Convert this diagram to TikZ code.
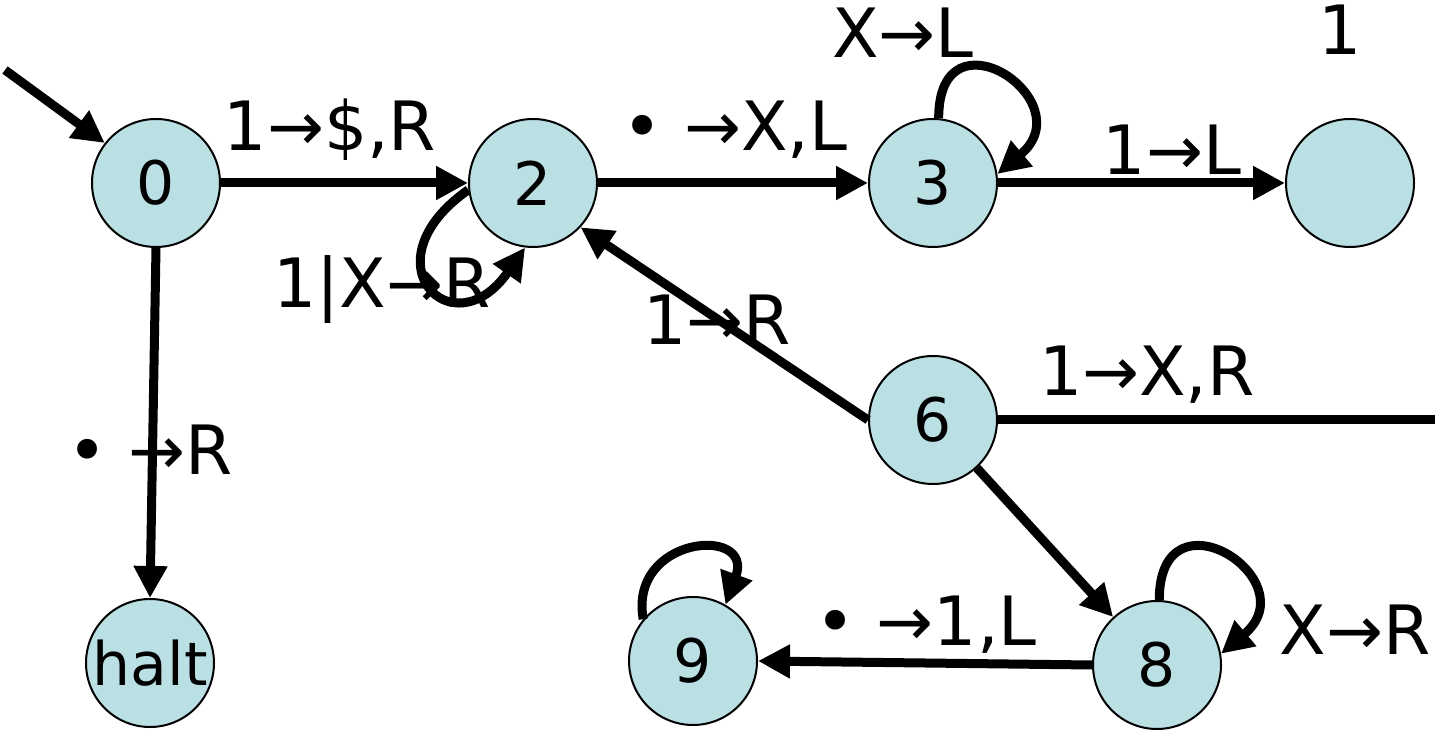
\documentclass[tikz,border=0pt]{standalone}
\usepackage{fontspec}
\setmainfont{DejaVu Sans}
\usetikzlibrary{arrows.meta}
\definecolor{stfill}{RGB}{187,224,227}
\begin{document}
\begin{tikzpicture}[x=0.5pt,y=0.5pt,
 state/.style={circle,draw,line width=1pt,fill=stfill,minimum size=64pt,inner sep=0pt,font=\fontsize{30}{36}\selectfont},
 edge/.style={line width=4.5pt,-{Triangle[length=16pt,width=16pt]}},
 plainedge/.style={line width=4.5pt},
 lbl/.style={font=\fontsize{34}{40}\selectfont,inner sep=0pt}]
\useasboundingbox (0,0) rectangle (1435,-731);
% nodes
\node[state] (s0) at (156,-183) {0};
\node[state] (s2) at (533,-183) {2};
\node[state] (s3) at (933,-183) {3};
\node[state] (s4) at (1350,-183) {};
\node[state] (s6) at (933,-420) {6};
\node[state] (halt) at (150,-663) {halt};
\node[state] (s9) at (693,-661) {9};
\node[state] (s8) at (1157,-665) {8};
\coordinate (start) at (5,-70);
\coordinate (e7) at (1435,-420);
% edges
\draw[edge] (start) -- (s0.142);
\draw[edge] (s0.east) -- (s2.west);
\draw[edge] (s2.186) to[out=215,in=235,looseness=4] (s2.-97);
\draw[edge] (s2.east) -- (s3.west);
\draw[edge] (s3.85) to[out=90,in=40,looseness=3.6] (s3.8);
\draw[edge] (s3.east) -- (s4.west);
\draw[edge] (s6.180) -- (s2.-43);
\draw[edge] (s0.south) -- (halt.north);
\draw[plainedge] (s6.east) -- (e7);
\draw[edge] (s6) -- (s8);
\draw[edge] (s8.west) -- (s9.east);
\draw[edge] (s8.88) to[out=90,in=40,looseness=3.6] (s8.10);
\draw[edge] (s9.140) to[out=100,in=70,looseness=2.6] (s9.60);
% labels
\node[lbl] (l02) at (330,-130) {1→\$,R};
\node[lbl] (l22) at (382,-290) {1|X→R};
\node[lbl] (l23) at (735,-130) {• →X,L};
\node[lbl] (l33) at (903,-33) {X→L};
\node[lbl] (l34) at (1172,-150) {1→L};
\node[lbl] (l62) at (717,-320) {1→R};
\node[lbl] (l0h) at (150,-450) {• →R};
\node[lbl] (l67) at (1147,-375) {1→X,R};
\node[lbl] (l89) at (926,-625) {• →1,L};
\node[lbl] (l88) at (1355,-630) {X→R};
\node[lbl] (l44) at (1340,-30) {1};
\end{tikzpicture}
\end{document}
